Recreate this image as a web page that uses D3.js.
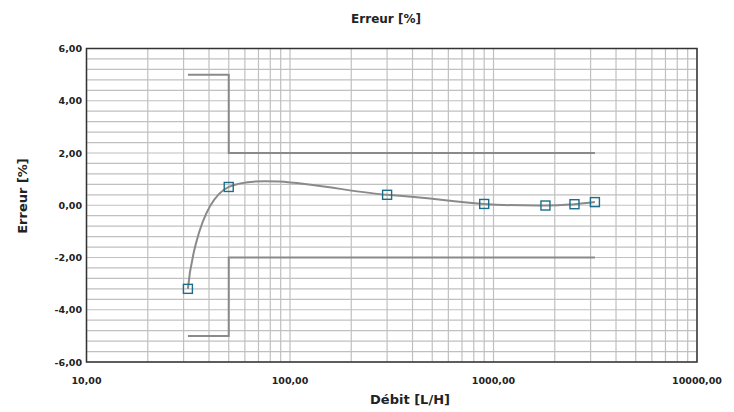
<!DOCTYPE html>
<html>
<head>
<meta charset="utf-8">
<script src="https://cdn.jsdelivr.net/npm/d3@7"></script>
<style>
  html, body { margin: 0; padding: 0; background: #fff; }
  svg { display: block; }
  text { font-family: "DejaVu Sans", sans-serif; font-weight: bold; fill: #222; }
</style>
</head>
<body>
<svg id="chart" width="734" height="412"></svg>
<script>
// Data
const flow  = [31.5, 50, 300, 900, 1800, 2500, 3150];
const error = [-3.2, 0.70, 0.40, 0.05, -0.01, 0.04, 0.12];
const limitX      = [31.5, 50, 50, 3150];
const upperLimitY = [5, 5, 2, 2];
const lowerLimitY = [-5, -5, -2, -2];
const xTicks = [10, 100, 1000, 10000];
const yTicks = [-6, -4, -2, 0, 2, 4, 6];
const title = "Erreur [%]";
const xTitle = "Débit [L/H]";
const yTitle = "Erreur [%]";

const W = 734, H = 412;
const m = { left: 86.5, right: 734 - 697, top: 48.5, bottom: 412 - 362 };
const svg = d3.select("#chart");

const x = d3.scaleLog().domain([10, 10000]).range([m.left, W - m.right]);
const y = d3.scaleLinear().domain([-6, 6]).range([H - m.bottom, m.top]);
const fmt = v => d3.format(".2f")(v).replace(".", ",").replace("\u2212", "-");

// Grid
const g = svg.append("g");
const minorX = [];
for (let d = 10; d < 10000; d *= 10) for (let k = 1; k <= 9; k++) minorX.push(d * k);
minorX.push(10000);
g.selectAll("line.vx").data(minorX).enter().append("line")
  .attr("x1", d => x(d)).attr("x2", d => x(d))
  .attr("y1", y(-6)).attr("y2", y(6))
  .attr("stroke", "#c0c0c0").attr("stroke-width", 1.2);
const hy = d3.range(-6, 6.001, 0.4);
g.selectAll("line.hy").data(hy).enter().append("line")
  .attr("x1", x(10)).attr("x2", x(10000))
  .attr("y1", d => y(d)).attr("y2", d => y(d))
  .attr("stroke", "#c0c0c0").attr("stroke-width", 1.2);

// Border
svg.append("rect")
  .attr("x", x(10)).attr("y", y(6))
  .attr("width", x(10000) - x(10)).attr("height", y(-6) - y(6))
  .attr("fill", "none").attr("stroke", "#333").attr("stroke-width", 1.5);

// Axis labels
svg.append("g").selectAll("text").data(xTicks).enter().append("text")
  .attr("x", d => x(d)).attr("y", 384)
  .attr("text-anchor", "middle").attr("font-size", 9.5).text(fmt);
svg.append("g").selectAll("text").data(yTicks).enter().append("text")
  .attr("x", 82).attr("y", d => y(d) + 3.5)
  .attr("text-anchor", "end").attr("font-size", 9.5).text(fmt);

// Titles
svg.append("text").attr("x", 386).attr("y", 23).attr("text-anchor", "middle")
  .attr("font-size", 12).text(title);
svg.append("text").attr("x", 410).attr("y", 404).attr("text-anchor", "middle")
  .attr("font-size", 13).text(xTitle);
svg.append("text").attr("transform", "translate(27,196) rotate(-90)")
  .attr("text-anchor", "middle").attr("font-size", 13).text(yTitle);

// Limit lines
const lim = d3.line().x(d => x(d[0])).y(d => y(d[1]));
[upperLimitY, lowerLimitY].forEach(ys => {
  svg.append("path")
    .attr("d", lim(limitX.map((v, i) => [v, ys[i]])))
    .attr("fill", "none").attr("stroke", "#8a8a8a").attr("stroke-width", 2);
});

// Smoothed error curve
const pts = flow.map((v, i) => [v, error[i]]);
const curve = d3.line().x(d => x(d[0])).y(d => y(d[1])).curve(d3.curveCardinal.tension(0));
svg.append("path").attr("d", curve(pts))
  .attr("fill", "none").attr("stroke", "#8a8a8a").attr("stroke-width", 2);

// Markers
svg.append("g").selectAll("rect").data(pts).enter().append("rect")
  .attr("x", d => x(d[0]) - 4.5).attr("y", d => y(d[1]) - 4.5)
  .attr("width", 9).attr("height", 9)
  .attr("fill", "none").attr("stroke", "#1b6e8a").attr("stroke-width", 1.4);
</script>
</body>
</html>
